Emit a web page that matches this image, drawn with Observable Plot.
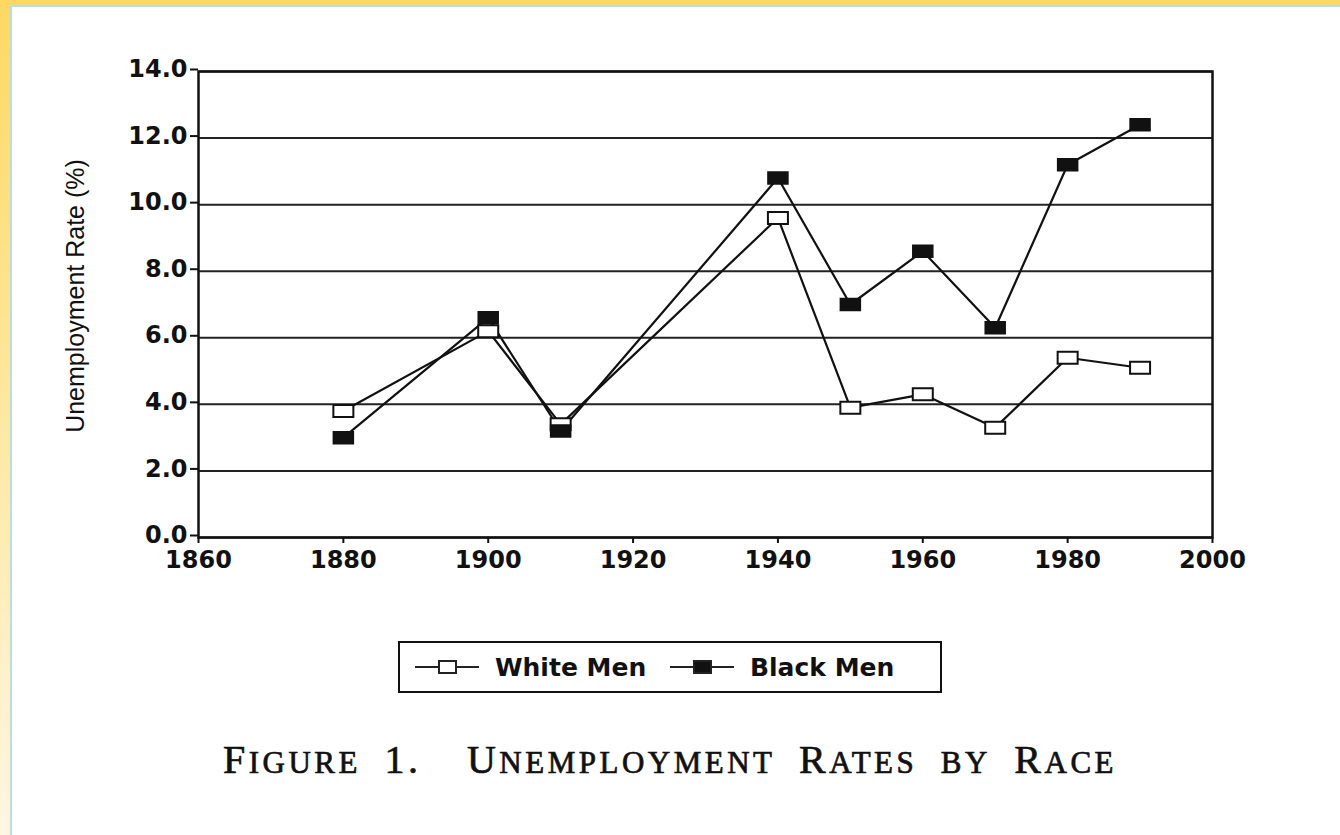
<!DOCTYPE html>
<html>
<head>
<meta charset="utf-8">
<script src="https://cdn.jsdelivr.net/npm/d3@7"></script>
<script src="https://cdn.jsdelivr.net/npm/@observablehq/plot@0.6"></script>
<style>
  html, body { margin: 0; padding: 0; }
  body {
    width: 1340px; height: 835px; position: relative; overflow: hidden;
    background: linear-gradient(to bottom, #FED862 0%, #FEE9A8 55%, #FFF6E2 100%);
  }
  #paper {
    position: absolute; left: 10px; top: 5px; right: 0; bottom: 0;
    background: #fff; border-left: 2px solid #B7DEE2; border-top: 2px solid #B7DEE2;
  }
  #chart { position: absolute; left: 0; top: 0; }
  #ylabel {
    position: absolute; left: 75px; top: 296px;
    transform: translate(-50%, -50%) rotate(-90deg);
    font-family: "Liberation Sans", Arial, sans-serif; font-size: 25px; color: #111;
    white-space: nowrap; transform-origin: center center;
  }
  #legend {
    position: absolute; left: 398px; top: 641px; width: 540px; height: 48px;
    border: 2px solid #111; background: #fff;
    font-family: "DejaVu Sans", sans-serif; font-weight: bold; font-size: 25px; color: #111;
  }
  .item { position: absolute; top: 0; height: 48px; display: flex; align-items: center; }
  .sample { position: relative; width: 64px; height: 2px; background: #222; margin-right: 16px; }
  .sample .box { position: absolute; left: 23px; top: -6px; width: 15px; height: 10px; border: 2px solid #222; }
  #caption {
    position: absolute; left: 0; width: 1340px; top: 736px; text-align: center;
    font-family: "Liberation Serif", "Times New Roman", serif; color: #111;
    letter-spacing: 3.5px; word-spacing: 16px; -webkit-text-stroke: 0.7px #111;
    white-space: nowrap;
  }
  #caption .big { font-size: 40px; }
  #caption .small { font-size: 31px; }
  #caption .gap { display: inline-block; width: 22px; }
</style>
</head>
<body>
<div id="paper"></div>
<div id="chart"></div>
<div id="ylabel">Unemployment Rate (%)</div>
<div id="legend"></div>
<div id="caption"></div>
<script>
const years = [1880, 1900, 1910, 1940, 1950, 1960, 1970, 1980, 1990];
const whiteMen = [3.8, 6.2, 3.4, 9.6, 3.9, 4.3, 3.3, 5.4, 5.1];
const blackMen = [3.0, 6.6, 3.2, 10.8, 7.0, 8.6, 6.3, 11.2, 12.4];
const seriesNames = ["White Men", "Black Men"];
const xTicks = [1860, 1880, 1900, 1920, 1940, 1960, 1980, 2000];
const yTicks = [0, 2, 4, 6, 8, 10, 12, 14];
const captionWords = ["Figure", "1.", "Unemployment", "Rates", "by", "Race"];

const rows = [];
years.forEach((y, i) => {
  rows.push({year: y, rate: whiteMen[i], series: seriesNames[0]});
  rows.push({year: y, rate: blackMen[i], series: seriesNames[1]});
});
const whiteRows = rows.filter(d => d.series === seriesNames[0]);
const blackRows = rows.filter(d => d.series === seriesNames[1]);

const wideRect = {
  draw(context, size) {
    context.moveTo(-10, -6);
    context.lineTo(10, -6);
    context.lineTo(10, 6);
    context.lineTo(-10, 6);
    context.closePath();
  }
};

const chart = Plot.plot({
  width: 1340,
  height: 600,
  marginLeft: 198,
  marginRight: 128,
  marginTop: 71,
  marginBottom: 63,
  style: {background: "transparent", fontFamily: "DejaVu Sans, sans-serif", fontWeight: "bold", fontSize: "24px", color: "#111"},
  x: {domain: [1860, 2000], label: null},
  y: {domain: [0, 14], label: null},
  marks: [
    Plot.gridY(yTicks, {stroke: "#222", strokeOpacity: 1, strokeWidth: 2}),
    Plot.frame({stroke: "#111", strokeWidth: 2.5}),
    Plot.axisX({ticks: xTicks, tickFormat: d3.format("d"), tickSize: 6, tickPadding: 7, stroke: "#111", strokeWidth: 2}),
    Plot.axisY({ticks: yTicks, tickFormat: d3.format(".1f"), tickSize: 8, tickPadding: 3, stroke: "#111", strokeWidth: 2, dy: -2}),
    Plot.line(whiteRows, {x: "year", y: "rate", stroke: "#111", strokeWidth: 2.2}),
    Plot.line(blackRows, {x: "year", y: "rate", stroke: "#111", strokeWidth: 2.2}),
    Plot.dot(whiteRows, {x: "year", y: "rate", symbol: wideRect, r: 6, fill: "white", stroke: "#111", strokeWidth: 2}),
    Plot.dot(blackRows, {x: "year", y: "rate", symbol: wideRect, r: 6, fill: "#111", stroke: "#111", strokeWidth: 1.5})
  ]
});
document.getElementById("chart").appendChild(chart);

// Legend
const legend = document.getElementById("legend");
const legendPos = [{left: 15, fill: "#fff"}, {left: 270, fill: "#111"}];
seriesNames.forEach((name, i) => {
  const item = document.createElement("div");
  item.className = "item";
  item.style.left = legendPos[i].left + "px";
  const sample = document.createElement("span");
  sample.className = "sample";
  const box = document.createElement("span");
  box.className = "box";
  box.style.background = legendPos[i].fill;
  sample.appendChild(box);
  item.appendChild(sample);
  const label = document.createElement("span");
  label.textContent = name;
  item.appendChild(label);
  legend.appendChild(item);
});

// Caption in small caps: first letter of capitalised words large, rest small upper case
const cap = document.getElementById("caption");
captionWords.forEach((w, i) => {
  const isCap = w[0] === w[0].toUpperCase();
  const first = document.createElement("span");
  const rest = document.createElement("span");
  if (isCap) {
    first.className = "big"; first.textContent = w[0];
    rest.className = "small"; rest.textContent = w.slice(1).toUpperCase();
    if (w === "1.") { rest.className = "big"; }
  } else {
    first.className = "small"; first.textContent = w.toUpperCase();
  }
  cap.appendChild(first);
  cap.appendChild(rest);
  if (i < captionWords.length - 1) cap.appendChild(document.createTextNode(" "));
  if (w === "1.") {
    const g = document.createElement("span");
    g.className = "gap";
    cap.appendChild(g);
  }
});
</script>
</body>
</html>
